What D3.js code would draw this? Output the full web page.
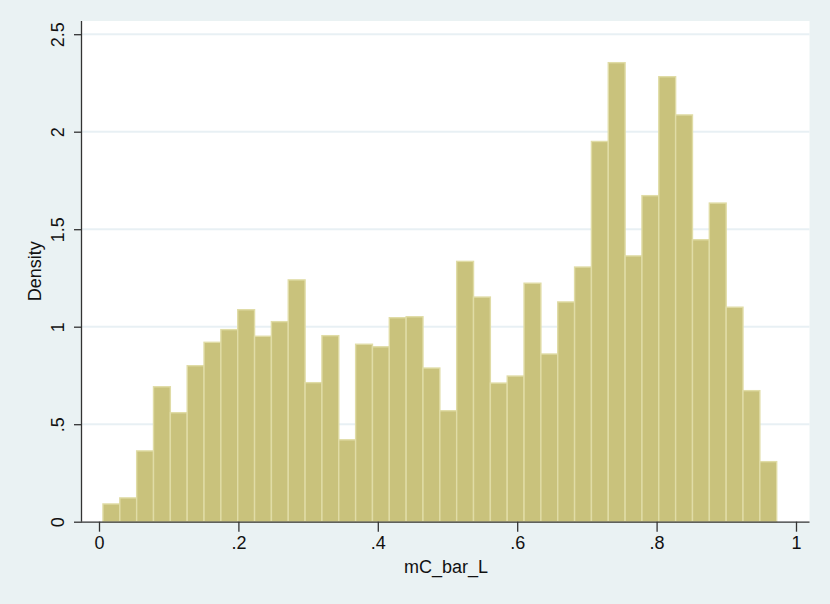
<!DOCTYPE html>
<html lang="en">
<head>
  <meta charset="UTF-8" />
  <title>Histogram of mC_bar_L</title>
  <script src="https://d3js.org/d3.v7.min.js"></script>
  <style>
    body {
      margin: 0;
      background-color: #eaf2f3;
      font-family: "Liberation Sans", Arial, sans-serif;
    }

    svg {
      display: block;
      background-color: #eaf2f3;
    }

    .grid line {
      stroke: #e8f0f4;
      stroke-width: 2px;
    }

    .bar {
      fill: #c9c27c;
      stroke: #e0dca6;
      stroke-width: 1.4px;
    }

    .axis path,
    .axis line {
      stroke: #333;
      stroke-width: 1.3px;
    }

    .axis text {
      fill: #111;
      font-size: 18px;
      font-family: "Liberation Sans", Arial, sans-serif;
    }

    .axis-title {
      fill: #111;
      font-size: 18px;
    }
  </style>
</head>
<body>
  <svg width="830" height="604"></svg>

  <script>
    // histogram bins: first edge and width on the mC_bar_L scale
    const binStart = 0.0057;
    const binWidth = 0.024165;
    const densities = [
      0.091, 0.122, 0.363, 0.692, 0.559, 0.800, 0.920, 0.985, 1.087, 0.951,
      1.026, 1.240, 0.713, 0.954, 0.420, 0.910, 0.897, 1.046, 1.051, 0.788,
      0.569, 1.335, 1.152, 0.711, 0.747, 1.223, 0.860, 1.127, 1.306, 1.950,
      2.354, 1.363, 1.672, 2.282, 2.086, 1.446, 1.634, 1.100, 0.672, 0.308
    ];
    const xTicks = [0, 0.2, 0.4, 0.6, 0.8, 1];
    const xTickLabels = ["0", ".2", ".4", ".6", ".8", "1"];
    const yTicks = [0, 0.5, 1, 1.5, 2, 2.5];
    const yTickLabels = ["0", ".5", "1", "1.5", "2", "2.5"];

    const bins = densities.map((d, i) => ({
      x0: binStart + i * binWidth,
      x1: binStart + (i + 1) * binWidth,
      density: d
    }));

    const svg = d3.select("svg");
    const plot = { left: 82, right: 809.5, top: 21, bottom: 521.7 };

    const x = d3.scaleLinear()
                .domain([0, 1])
                .range([99, 796]);

    const y = d3.scaleLinear()
                .domain([0, 2.5])
                .range([521.7, 34.2]);

    // plot region
    svg.append("rect")
       .attr("x", plot.left)
       .attr("y", plot.top)
       .attr("width", plot.right - plot.left)
       .attr("height", plot.bottom - plot.top)
       .attr("fill", "white");

    // gridlines
    svg.append("g")
       .attr("class", "grid")
       .selectAll("line")
       .data(yTicks.slice(1))
       .enter()
       .append("line")
       .attr("x1", plot.left)
       .attr("x2", plot.right)
       .attr("y1", d => y(d))
       .attr("y2", d => y(d));

    // bars
    svg.selectAll(".bar")
       .data(bins)
       .enter()
       .append("rect")
       .attr("class", "bar")
       .attr("x", d => x(d.x0))
       .attr("width", d => x(d.x1) - x(d.x0))
       .attr("y", d => y(d.density))
       .attr("height", d => y(0) - y(d.density));

    // X-axis
    const xAxis = svg.append("g")
       .attr("class", "axis")
       .attr("transform", `translate(0,${plot.bottom})`)
       .call(d3.axisBottom(x)
               .tickValues(xTicks)
               .tickFormat((d, i) => xTickLabels[i])
               .tickSize(10)
               .tickSizeOuter(0)
               .tickPadding(5));
    xAxis.select(".domain")
         .attr("d", `M${plot.left},0.5H${plot.right}`);

    // Y-axis
    const yAxis = svg.append("g")
       .attr("class", "axis")
       .attr("transform", `translate(${plot.left},0)`)
       .call(d3.axisLeft(y)
               .tickValues(yTicks)
               .tickFormat((d, i) => yTickLabels[i])
               .tickSize(8)
               .tickSizeOuter(0));
    yAxis.select(".domain")
         .attr("d", `M-0.5,${plot.top}V${plot.bottom}`);
    yAxis.selectAll(".tick text")
         .attr("x", null)
         .attr("dy", null)
         .attr("transform", "translate(-18,0) rotate(-90)")
         .style("text-anchor", "middle");

    // axis titles
    svg.append("text")
       .attr("class", "axis-title")
       .attr("x", 446)
       .attr("y", 573)
       .attr("text-anchor", "middle")
       .text("mC_bar_L");

    svg.append("text")
       .attr("class", "axis-title")
       .attr("transform", `translate(41,${(plot.top + plot.bottom) / 2}) rotate(-90)`)
       .attr("text-anchor", "middle")
       .text("Density");
  </script>
</body>
</html>
